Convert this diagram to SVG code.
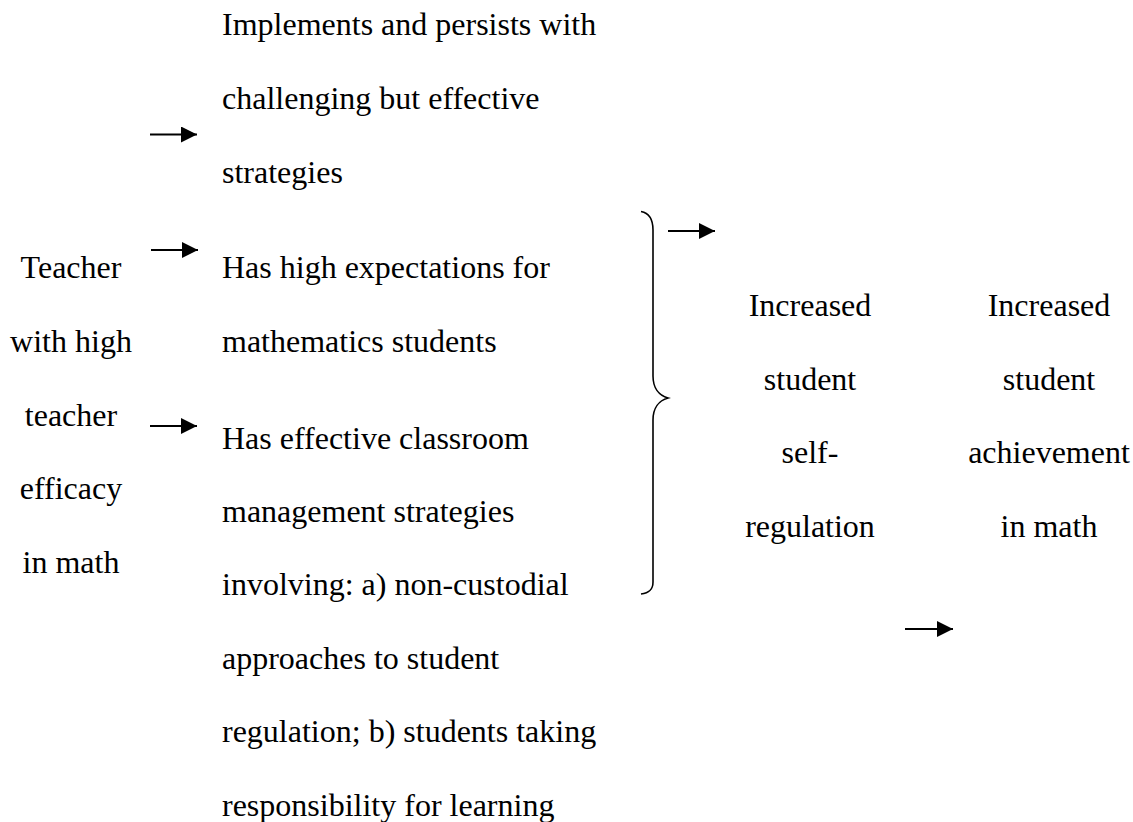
<svg xmlns="http://www.w3.org/2000/svg" width="1133" height="822" viewBox="0 0 1133 822">
  <style>
    text { font-family: "Liberation Serif", LiberationSerif, Tinos, "DejaVu Serif", serif; font-size: 32px; fill: #000; }
    .c { text-anchor: middle; }
    .conn { stroke: #000; stroke-width: 2; fill: none; }
    .brace { stroke: #000; stroke-width: 1.6; fill: none; }
  </style>
  <defs>
    <marker id="head" viewBox="0 0 16 16" refX="16" refY="8" markerWidth="16" markerHeight="16" markerUnits="userSpaceOnUse" orient="auto">
      <path d="M0,0 L16,8 L0,16 Z" fill="#000"/>
    </marker>
  </defs>

  <rect width="1133" height="822" fill="#fff"/>

  <g id="teacher">
    <text class="c" x="71" y="278">Teacher</text>
    <text class="c" x="71" y="352">with high</text>
    <text class="c" x="71" y="426">teacher</text>
    <text class="c" x="71" y="499">efficacy</text>
    <text class="c" x="71" y="573">in math</text>
  </g>

  <g id="strategies">
    <text x="222" y="35">Implements and persists with</text>
    <text x="222" y="109">challenging but effective</text>
    <text x="222" y="183">strategies</text>
  </g>

  <g id="expectations">
    <text x="222" y="278">Has high expectations for</text>
    <text x="222" y="352">mathematics students</text>
  </g>

  <g id="management">
    <text x="222" y="449">Has effective classroom</text>
    <text x="222" y="522">management strategies</text>
    <text x="222" y="595">involving: a) non-custodial</text>
    <text x="222" y="669">approaches to student</text>
    <text x="222" y="742">regulation; b) students taking</text>
    <text x="222" y="816">responsibility for learning</text>
  </g>

  <g id="self-regulation">
    <text class="c" x="810" y="316">Increased</text>
    <text class="c" x="810" y="390">student</text>
    <text class="c" x="810" y="463">self-</text>
    <text class="c" x="810" y="537">regulation</text>
  </g>

  <g id="achievement">
    <text class="c" x="1049" y="316">Increased</text>
    <text class="c" x="1049" y="390">student</text>
    <text class="c" x="1049" y="463">achievement</text>
    <text class="c" x="1049" y="537">in math</text>
  </g>

  <g id="connectors">
    <line class="conn" x1="150" y1="134.5" x2="197" y2="134.5" marker-end="url(#head)"/>
    <line class="conn" x1="151" y1="250" x2="198" y2="250" marker-end="url(#head)"/>
    <line class="conn" x1="150" y1="426" x2="197" y2="426" marker-end="url(#head)"/>
    <path class="brace" d="M641,211.5 C649,213 653,219 653,230 L653,376 C653,388 659,395.5 668,398 C659,400.5 653,408 653,420 L653,582 C653,590 649,593 641,594"/>
    <line class="conn" x1="668" y1="231" x2="715" y2="231" marker-end="url(#head)"/>
    <line class="conn" x1="905" y1="629" x2="953" y2="629" marker-end="url(#head)"/>
  </g>
</svg>
